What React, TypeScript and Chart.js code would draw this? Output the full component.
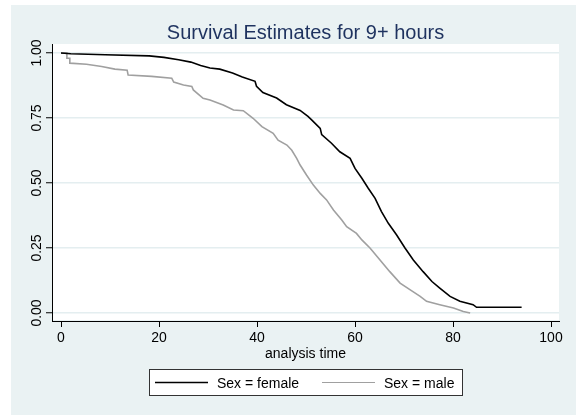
import React, { useEffect, useRef } from 'react';
import { Chart, registerables } from 'chart.js';

Chart.register(...registerables);

// Kaplan-Meier estimates
const femaleTime = [0, 2, 9, 18, 21, 24, 26.5, 28.5, 30.4, 32.4, 35, 37, 39.6, 39.9, 41.2, 44, 46, 48.8, 50.4, 51.2, 52.9, 53.2, 55.2, 56.9, 59, 60, 61.4, 62.7, 64.1, 65.4, 66.8, 68.5, 70.2, 71.9, 73.9, 75.7, 77.3, 79.4, 81.4, 84.1, 84.8, 94];
const femaleSurv = [1, 0.997, 0.993, 0.989, 0.983, 0.974, 0.965, 0.952, 0.942, 0.938, 0.923, 0.908, 0.891, 0.872, 0.848, 0.827, 0.801, 0.779, 0.756, 0.742, 0.71, 0.686, 0.653, 0.62, 0.595, 0.556, 0.518, 0.48, 0.441, 0.39, 0.345, 0.3, 0.25, 0.204, 0.159, 0.121, 0.096, 0.064, 0.045, 0.032, 0.022, 0.022];

const maleTime = [0, 1.2, 1.2, 1.8, 1.8, 5.2, 8.3, 11, 13.5, 13.7, 18.5, 22.6, 23, 25, 26.7, 27, 29, 30.4, 33.1, 35.2, 37.2, 39.2, 41, 43.3, 44.3, 46.1, 47.1, 48.1, 48.8, 50.1, 51.5, 52.9, 54.2, 55.6, 57.3, 58.3, 60.3, 61.4, 63.1, 65.1, 67.1, 69.2, 71.2, 73.3, 74.6, 77.3, 80.1, 82.1, 83.5];
const maleSurv = [1, 1, 0.98, 0.98, 0.961, 0.957, 0.948, 0.938, 0.934, 0.915, 0.91, 0.903, 0.888, 0.877, 0.871, 0.858, 0.826, 0.819, 0.8, 0.781, 0.778, 0.749, 0.717, 0.691, 0.665, 0.646, 0.626, 0.595, 0.569, 0.531, 0.492, 0.46, 0.435, 0.396, 0.358, 0.332, 0.306, 0.281, 0.249, 0.204, 0.159, 0.115, 0.09, 0.064, 0.045, 0.032, 0.019, 0.006, 0];

const xTicks = [0, 20, 40, 60, 80, 100];
const yTicks = [0, 0.25, 0.5, 0.75, 1];
const titleText = 'Survival Estimates for 9+ hours';
const xAxisTitle = 'analysis time';
const seriesLabels = ['Sex = female', 'Sex = male'];
const seriesColors = ['#000000', '#a0a0a0'];

const FONT = '"Liberation Sans", Arial, sans-serif';

export default function App() {
  const ref = useRef<HTMLCanvasElement>(null);

  useEffect(() => {
    document.body.style.margin = '0';
    const canvas = ref.current;
    if (!canvas) return;

    const bgPlugin = {
      id: 'bgPlugin',
      beforeDraw(chart: any) {
        const { ctx, chartArea: a } = chart;
        ctx.save();
        ctx.fillStyle = '#ffffff';
        ctx.fillRect(0, 0, chart.width, chart.height);
        ctx.fillStyle = 'rgb(234,242,243)';
        ctx.fillRect(11, 5, 565, 410);
        ctx.fillStyle = '#ffffff';
        ctx.fillRect(a.left + 1, a.top, a.right - a.left - 1, a.bottom - a.top - 1);
        ctx.restore();
      },
    };

    const textPlugin = {
      id: 'textPlugin',
      afterDraw(chart: any) {
        const { ctx, chartArea: a } = chart;
        const yScale = chart.scales.y;
        const cx = (a.left + a.right) / 2;
        ctx.save();
        // title
        ctx.fillStyle = 'rgb(30,50,95)';
        ctx.font = `20px ${FONT}`;
        ctx.textAlign = 'center';
        ctx.textBaseline = 'alphabetic';
        ctx.fillText(titleText, cx, 38.5);
        // y tick labels (rotated)
        ctx.fillStyle = '#000';
        ctx.font = `14px ${FONT}`;
        yTicks.forEach((v) => {
          const py = yScale.getPixelForValue(v);
          ctx.save();
          ctx.translate(a.left - 15, py);
          ctx.rotate(-Math.PI / 2);
          ctx.textAlign = 'center';
          ctx.textBaseline = 'middle';
          ctx.fillText(v.toFixed(2), 0, 0);
          ctx.restore();
        });
        // x axis title
        ctx.textAlign = 'center';
        ctx.textBaseline = 'alphabetic';
        ctx.fillText(xAxisTitle, cx, 357.5);
        // legend
        const lx = 149, ly = 369, lw = 313, lh = 26;
        ctx.fillStyle = '#ffffff';
        ctx.fillRect(lx, ly, lw, lh);
        ctx.strokeStyle = '#333';
        ctx.lineWidth = 1;
        ctx.strokeRect(lx + 0.5, ly + 0.5, lw, lh);
        const items = [
          { x1: 155, x2: 208, tx: 217 },
          { x1: 322, x2: 375, tx: 384 },
        ];
        items.forEach((it, i) => {
          ctx.strokeStyle = seriesColors[i];
          ctx.lineWidth = i === 0 ? 1.5 : 1.2;
          ctx.beginPath();
          ctx.moveTo(it.x1, 382.5);
          ctx.lineTo(it.x2, 382.5);
          ctx.stroke();
          ctx.fillStyle = '#000';
          ctx.textAlign = 'left';
          ctx.fillText(seriesLabels[i], it.tx, 388);
        });
        ctx.restore();
      },
    };

    const chart = new Chart(canvas, {
      type: 'line',
      data: {
        datasets: [
          {
            label: seriesLabels[0],
            data: femaleTime.map((t, i) => ({ x: t, y: femaleSurv[i] })),
            borderColor: seriesColors[0],
            borderWidth: 1.6,
            pointRadius: 0,
            tension: 0,
            fill: false,
          },
          {
            label: seriesLabels[1],
            data: maleTime.map((t, i) => ({ x: t, y: maleSurv[i] })),
            borderColor: seriesColors[1],
            borderWidth: 1.6,
            pointRadius: 0,
            tension: 0,
            fill: false,
          },
        ],
      },
      options: {
        animation: false,
        responsive: false,
        maintainAspectRatio: false,
        layout: { padding: { left: 0, right: 17, top: 44, bottom: 0 } },
        plugins: {
          legend: { display: false },
          title: { display: false },
          tooltip: { enabled: false },
        },
        scales: {
          x: {
            type: 'linear',
            min: -1.837,
            max: 101.63,
            afterBuildTicks: (s: any) => {
              s.ticks = xTicks.map((v) => ({ value: v }));
            },
            afterFit: (s: any) => {
              s.height = 98;
            },
            ticks: {
              color: '#000',
              font: { family: FONT, size: 14 },
              padding: 3,
              maxRotation: 0,
              autoSkip: false,
              callback: (v: any) => String(v),
            },
            grid: {
              drawOnChartArea: false,
              drawTicks: true,
              tickLength: 6,
              tickColor: '#000',
            },
            border: { color: '#000', width: 1 },
          },
          y: {
            type: 'linear',
            min: -0.0308,
            max: 1.0346,
            afterBuildTicks: (s: any) => {
              s.ticks = yTicks.map((v) => ({ value: v }));
            },
            afterFit: (s: any) => {
              s.width = 52;
            },
            ticks: { display: false },
            grid: {
              color: 'rgb(228,238,240)',
              lineWidth: 1.5,
              drawTicks: true,
              tickLength: 6,
              tickColor: '#000',
              tickWidth: 1,
            },
            border: { color: '#000', width: 1 },
          },
        },
      },
      plugins: [bgPlugin, textPlugin],
    });

    return () => chart.destroy();
  }, []);

  return (
    <div style={{ width: 576, height: 419 }}>
      <canvas ref={ref} width={576} height={419} style={{ display: 'block' }} />
    </div>
  );
}
